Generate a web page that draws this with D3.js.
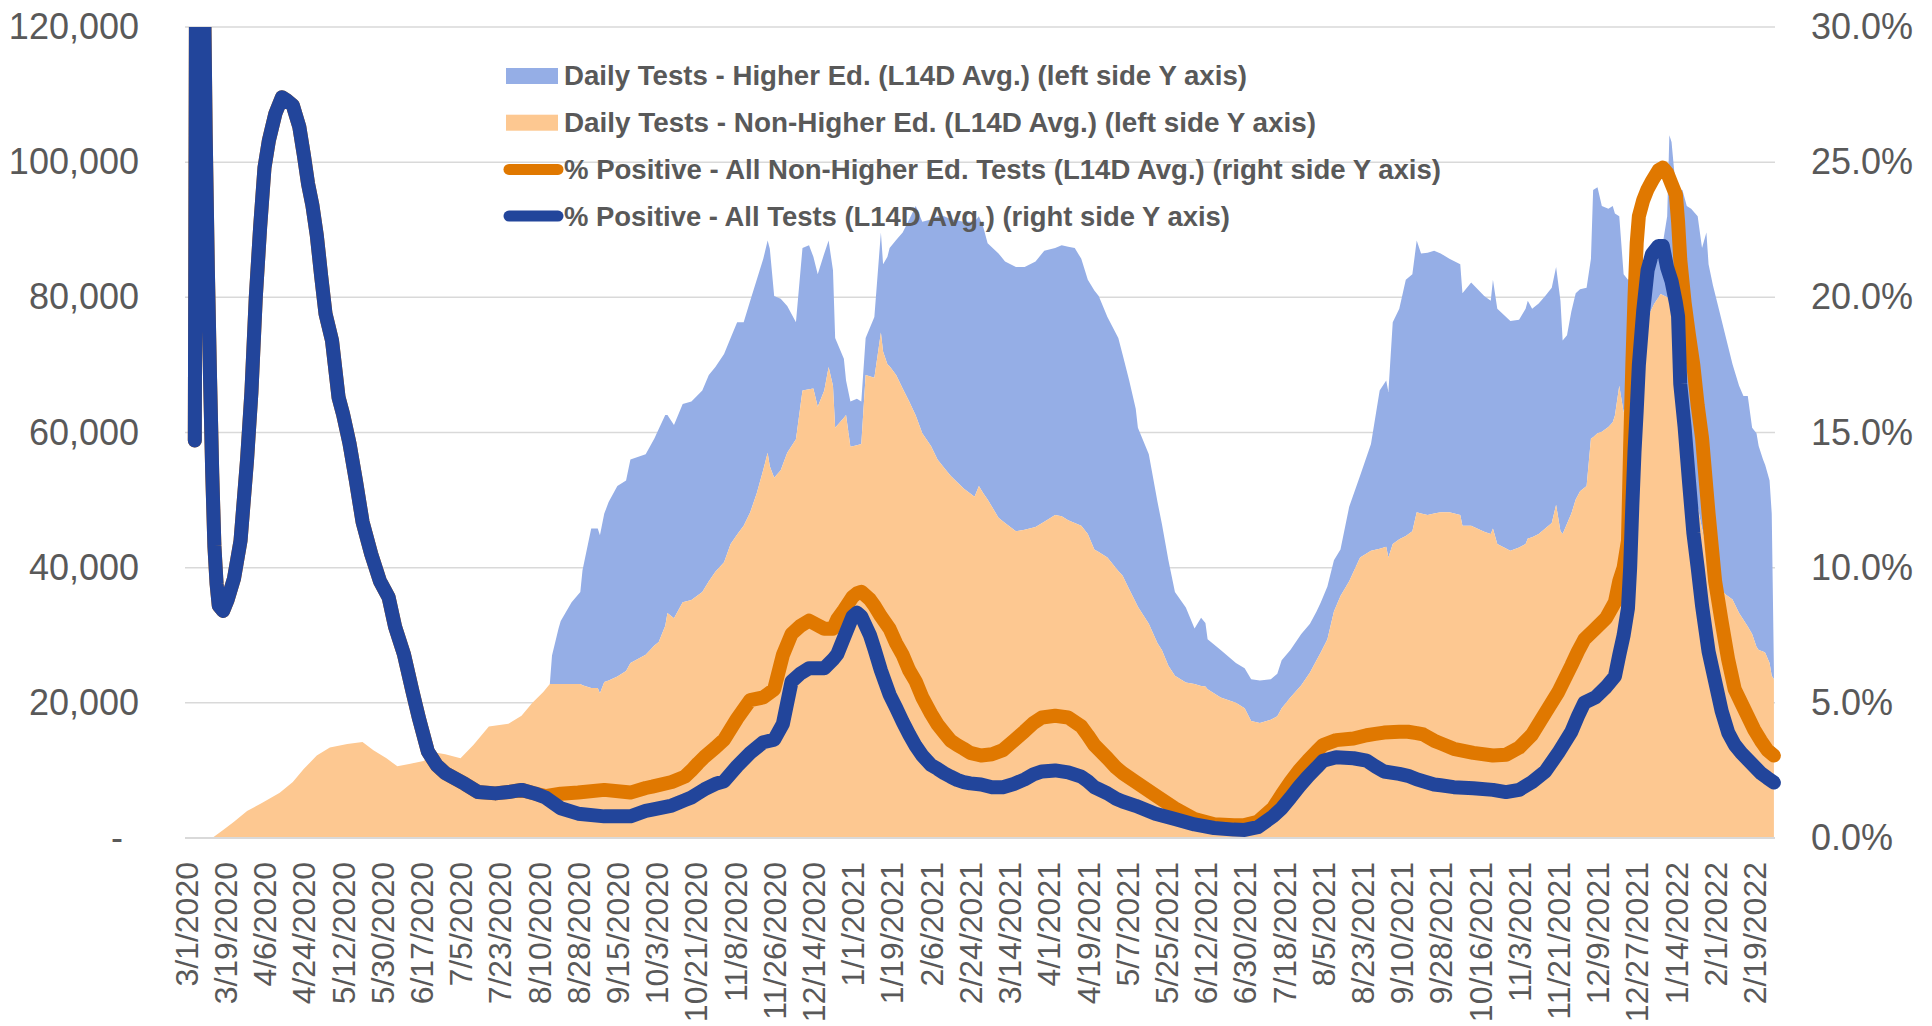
<!DOCTYPE html>
<html>
<head>
<meta charset="utf-8">
<script src="https://cdn.jsdelivr.net/npm/d3@7"></script>
<style>
  body { margin: 0; background: #fff; }
  svg { display: block; }
</style>
</head>
<body>
<div id="plot"></div>
<script>
// ---- data (day offsets counted from 3/1/2020) ----
const tickLabels = ["3/1/2020", "3/19/2020", "4/6/2020", "4/24/2020", "5/12/2020", "5/30/2020", "6/17/2020",
  "7/5/2020", "7/23/2020", "8/10/2020", "8/28/2020", "9/15/2020", "10/3/2020", "10/21/2020", "11/8/2020",
  "11/26/2020", "12/14/2020", "1/1/2021", "1/19/2021", "2/6/2021", "2/24/2021", "3/14/2021", "4/1/2021",
  "4/19/2021", "5/7/2021", "5/25/2021", "6/12/2021", "6/30/2021", "7/18/2021", "8/5/2021", "8/23/2021",
  "9/10/2021", "9/28/2021", "10/16/2021", "11/3/2021", "11/21/2021", "12/9/2021", "12/27/2021",
  "1/14/2022", "2/1/2022", "2/19/2022"];

const leftTicks = [0, 20000, 40000, 60000, 80000, 100000, 120000];
const rightTicks = [0, 5, 10, 15, 20, 25, 30];

const seriesNames = [
  "Daily Tests - Higher Ed. (L14D Avg.) (left side Y axis)",
  "Daily Tests - Non-Higher Ed. (L14D Avg.) (left side Y axis)",
  "% Positive - All Non-Higher Ed. Tests (L14D Avg.) (right side Y axis)",
  "% Positive - All Tests (L14D Avg.) (right side Y axis)"
];

const areaDays = [0, 12, 17, 22, 28, 35, 43, 49, 54, 60, 66, 74, 81, 86, 92, 97, 103, 109, 115, 119, 126, 132,
  139, 148, 154, 159, 164, 167, 168, 171, 172, 177, 181, 182, 186, 189, 190, 192, 194, 198, 202, 204, 211, 215,
  217, 220, 221, 224, 228, 232, 237, 240, 243, 247, 250, 253, 256, 259, 262, 265, 267, 268, 270, 273, 276, 280,
  283, 286, 288, 290, 293, 295, 297, 298, 302, 303, 305, 308, 310, 312, 316, 319, 320, 322, 323, 326, 329, 332,
  335, 338, 342, 345, 348, 351, 357, 362, 364, 366, 368, 373, 376, 381, 385, 390, 394, 399, 402, 405, 408, 411,
  414, 417, 419, 423, 428, 430, 433, 436, 437, 442, 446, 448, 451, 454, 459, 463, 466, 468, 469, 475, 482, 486,
  489, 493, 498, 501, 503, 507, 512, 516, 519, 521, 524, 527, 530, 534, 539, 544, 548, 551, 552, 554, 557, 560,
  563, 565, 567, 570, 573, 576, 580, 585, 586, 590, 596, 599, 600, 602, 608, 612, 615, 616, 618, 621, 624, 627,
  629, 631, 632, 634, 636, 638, 640, 643, 645, 646, 648, 650, 653, 655, 656, 658, 660, 662, 664, 666, 668, 671,
  674, 677, 680, 681, 682, 684, 687, 689, 691, 694, 696, 698, 699, 701, 704, 707, 710, 713, 715, 717, 719, 721,
  722, 724, 725, 727, 728, 729];

const nonHigherEdTests = [0, 0, 1200, 2400, 4000, 5200, 6700, 8300, 10200, 12200, 13400, 13900, 14200, 13000,
  11800, 10600, 11000, 11400, 12600, 12400, 11800, 13800, 16500, 16900, 18100, 20000, 21600, 22800, 22800, 22800,
  22800, 22800, 22800, 22600, 22200, 22200, 21400, 23100, 23300, 23900, 24700, 25900, 27100, 28500, 29000, 31400,
  33300, 32500, 34900, 35200, 36400, 38000, 39400, 40800, 43500, 44900, 46200, 48200, 51000, 54500, 57000, 55000,
  53300, 54400, 57000, 59000, 66200, 66400, 66500, 63800, 66200, 69700, 66900, 60700, 62200, 62600, 57900, 58100,
  58300, 68500, 68100, 74800, 72000, 70100, 69800, 68500, 66500, 64600, 62500, 59900, 58000, 56000, 54800, 53600,
  51700, 50500, 52100, 51000, 50100, 47400, 46600, 45400, 45600, 46000, 46800, 47800, 47600, 47000, 46600, 46200,
  45000, 42700, 42300, 41500, 39500, 38800, 36800, 34900, 34200, 31700, 28800, 27800, 25500, 24000, 23000, 22800,
  22500, 22400, 22000, 20800, 20000, 19200, 17300, 17000, 17500, 18000, 19200, 20800, 22600, 24500, 26300, 27500,
  29400, 33500, 35800, 38000, 41500, 42500, 42800, 43100, 41500, 43500, 44200, 44700, 45400, 48200, 48000, 47800,
  48000, 48200, 48200, 47800, 46200, 46200, 45300, 45000, 45800, 43500, 42500, 43000, 43500, 44300, 44500, 45000,
  45800, 46600, 49300, 45400, 45000, 46500, 48000, 50100, 51300, 52100, 59100, 59300, 59900, 60100, 60800, 61500,
  62500, 66900, 63000, 64500, 66200, 72000, 75000, 77000, 79000, 80500, 80000, 80000, 79500, 75000, 70000, 64600,
  55000, 49000, 45800, 43000, 41500, 38800, 37000, 36000, 35300, 33300, 32300, 31300, 30200, 28300, 27800, 27600,
  27400, 25900, 24000, 23500];

const higherEdTests = [0, 0, 0, 0, 0, 0, 0, 0, 0, 0, 0, 0, 0, 0, 0, 0, 0, 0, 0, 0, 0, 0, 0, 0, 0, 0, 0, 0, 4200,
  8200, 9300, 12100, 13600, 17000, 23600, 23600, 23400, 24900, 26400, 28200, 28200, 30100, 29700, 30600, 31500,
  31200, 29300, 28600, 29300, 29400, 29800, 30500, 30300, 30800, 30500, 31400, 30100, 31300, 31600, 31200, 31400,
  32200, 26900, 25400, 21700, 17300, 21100, 21300, 19500, 19600, 20300, 18700, 17100, 13300, 8700, 5100, 6700,
  6900, 6300, 5500, 9000, 14800, 12900, 15900, 17500, 20000, 23100, 26900, 31000, 31300, 33500, 36000, 37200,
  38000, 39500, 40700, 39900, 39400, 37900, 39100, 38700, 39100, 38900, 39300, 40100, 39500, 40100, 40500, 40700,
  39500, 37600, 38300, 37900, 35600, 34500, 32700, 30900, 28600, 26500, 25100, 20900, 18700, 15600, 12400, 11100,
  8200, 10100, 9400, 7400, 7000, 5900, 5900, 6200, 6300, 6000, 6300, 7100, 7000, 7600, 7200, 7200, 7400, 7800,
  7600, 6900, 11000, 12100, 15800, 23400, 24600, 24500, 32800, 34100, 37900, 38000, 40200, 38500, 38800, 38900,
  38300, 37500, 37100, 34400, 36000, 34900, 34500, 36800, 34800, 34000, 33700, 34800, 35200, 33800, 34100, 34400,
  34800, 35200, 34100, 28600, 27900, 29900, 30500, 29900, 29300, 26600, 36600, 36400, 33400, 32300, 32000, 29900,
  25100, 20400, 18100, 16800, 9400, 3500, 3000, 6000, 5500, 12000, 24000, 23500, 21000, 25900, 28900, 38100,
  43000, 41500, 46600, 43400, 43000, 40900, 38000, 34800, 33600, 33100, 34100, 30500, 31600, 30200, 28400, 27800,
  27000, 24000, 1500];

const lineDays = [4, 5, 7, 8, 9, 10, 11, 12, 13, 14, 15, 17, 19, 22, 25, 28, 30, 32, 34, 36, 38, 41, 44, 46, 49,
  52, 54, 56, 58, 60, 62, 64, 67, 70, 72, 75, 78, 81, 85, 89, 93, 96, 100, 104, 107, 111, 115, 119, 128, 134,
  142, 148, 154, 160, 165, 172, 180, 192, 204, 211, 214, 223, 229, 232, 235, 238, 243, 247, 253, 259, 265, 270,
  274, 278, 282, 286, 293, 297, 299, 302, 306, 308, 310, 314, 316, 319, 323, 326, 329, 332, 335, 338, 342, 345,
  348, 351, 354, 357, 360, 365, 370, 375, 380, 385, 389, 393, 399, 405, 411, 414, 417, 423, 427, 430, 436, 445,
  454, 463, 472, 481, 486, 492, 499, 503, 507, 511, 515, 519, 522, 528, 536, 542, 546, 550, 557, 561, 565, 568,
  573, 576, 582, 591, 600, 606, 612, 618, 624, 630, 636, 639, 642, 647, 652, 656, 658, 660, 662, 663, 664, 665,
  666, 667, 669, 671, 673, 676, 678, 680, 682, 684, 685, 686, 688, 690, 692, 694, 696, 699, 702, 705, 708, 711,
  714, 717, 720, 723, 726, 729];

const pctAllTests = [14.7, 45, 42, 33, 26, 21, 17, 13.5, 10.8, 9.4, 8.6, 8.4, 8.8, 9.6, 11.0, 14.0, 16.5, 20.0,
  22.6, 24.8, 25.8, 26.8, 27.4, 27.3, 27.1, 26.3, 25.3, 24.2, 23.4, 22.3, 20.8, 19.4, 18.4, 16.3, 15.7, 14.6,
  13.2, 11.7, 10.5, 9.5, 8.9, 7.8, 6.8, 5.4, 4.4, 3.2, 2.7, 2.4, 2.0, 1.7, 1.65, 1.7, 1.78, 1.65, 1.5, 1.1, 0.9,
  0.8, 0.8, 1.0, 1.05, 1.2, 1.4, 1.5, 1.65, 1.8, 2.0, 2.1, 2.66, 3.15, 3.54, 3.64, 4.22, 5.79, 6.08, 6.28, 6.28,
  6.6, 6.8, 7.4, 8.2, 8.33, 8.2, 7.5, 7.0, 6.2, 5.3, 4.81, 4.3, 3.83, 3.4, 3.05, 2.7, 2.56, 2.4, 2.27, 2.15,
  2.07, 2.02, 1.98, 1.88, 1.88, 2.0, 2.17, 2.35, 2.46, 2.5, 2.43, 2.27, 2.1, 1.88, 1.65, 1.45, 1.35, 1.19, 0.9,
  0.7, 0.5, 0.37, 0.31, 0.3, 0.4, 0.8, 1.1, 1.49, 1.9, 2.27, 2.6, 2.86, 2.99, 2.95, 2.86, 2.65, 2.46, 2.37, 2.3,
  2.17, 2.1, 1.98, 1.95, 1.88, 1.84, 1.78, 1.7, 1.78, 2.07, 2.46, 3.15, 3.93, 4.5, 5.01, 5.2, 5.59, 5.98, 6.77,
  7.5, 8.5, 10.0, 12.3, 14.3, 15.8, 17.5, 19.5, 21.0, 21.6, 21.9, 21.9, 21.1, 20.6, 19.8, 19.3, 16.8, 15.2, 13.2,
  11.3, 10.0, 8.6, 6.9, 5.8, 4.7, 3.9, 3.45, 3.15, 2.9, 2.65, 2.4, 2.22, 2.05];

const pctNonHigherEd = [14.7, 45, 42, 33, 26, 21, 17, 13.5, 10.8, 9.4, 8.6, 8.4, 8.8, 9.6, 11.0, 14.0, 16.5,
  20.0, 22.6, 24.8, 25.8, 26.8, 27.4, 27.3, 27.1, 26.3, 25.3, 24.2, 23.4, 22.3, 20.8, 19.4, 18.4, 16.3, 15.7,
  14.6, 13.2, 11.7, 10.5, 9.5, 8.9, 7.8, 6.8, 5.4, 4.4, 3.2, 2.7, 2.4, 2.0, 1.7, 1.65, 1.7, 1.78, 1.65, 1.55,
  1.64, 1.68, 1.78, 1.68, 1.85, 1.9, 2.07, 2.27, 2.5, 2.76, 3.0, 3.34, 3.64, 4.42, 5.1, 5.2, 5.5, 6.77, 7.55,
  7.84, 8.04, 7.74, 7.74, 8.1, 8.43, 8.92, 9.05, 9.11, 8.82, 8.6, 8.2, 7.74, 7.2, 6.77, 6.2, 5.79, 5.2, 4.6, 4.2,
  3.9, 3.6, 3.44, 3.3, 3.15, 3.05, 3.1, 3.25, 3.6, 3.95, 4.25, 4.46, 4.52, 4.46, 4.13, 3.8, 3.44, 2.95, 2.6, 2.4,
  2.07, 1.58, 1.10, 0.70, 0.51, 0.47, 0.48, 0.6, 1.1, 1.6, 2.07, 2.5, 2.86, 3.2, 3.44, 3.62, 3.68, 3.8, 3.85,
  3.9, 3.93, 3.93, 3.88, 3.83, 3.6, 3.5, 3.3, 3.15, 3.05, 3.08, 3.34, 3.83, 4.62, 5.4, 6.38, 6.9, 7.35, 7.74,
  8.14, 8.72, 9.5, 10.0, 11.0, 14.5, 17.5, 20.0, 22.0, 23.0, 23.6, 24.0, 24.3, 24.7, 24.8, 24.6, 24.2, 23.8,
  22.8, 21.4, 19.8, 18.6, 17.5, 16.0, 14.8, 12.0, 9.5, 8.0, 6.6, 5.5, 5.0, 4.5, 4.0, 3.6, 3.25, 3.05];

// ---- layout ----
const width = 1932, height = 1026;
const plotLeft = 185, plotRight = 1775, plotTop = 27, plotBottom = 838;
const textColor = "#595959";
const font = "'Liberation Sans', Arial, sans-serif";

const svg = d3.select("#plot").append("svg")
  .attr("width", width)
  .attr("height", height)
  .style("font-family", font);

const day0 = new Date(Date.UTC(2020, 2, 1));
const toDate = d => d3.utcDay.offset(day0, d);
const parseLabel = d3.utcParse("%m/%d/%Y");

const x = d3.scaleUtc()
  .domain([d3.utcHour.offset(day0, -12), d3.utcHour.offset(toDate(729), 12)])
  .range([plotLeft, plotRight]);

const yLeft = d3.scaleLinear().domain([0, 120000]).range([plotBottom, plotTop]);
const yRight = d3.scaleLinear().domain([0, 30]).range([plotBottom, plotTop]);

// gridlines
svg.append("g")
  .selectAll("line")
  .data(leftTicks.slice(1))
  .enter()
  .append("line")
    .attr("x1", plotLeft)
    .attr("x2", plotRight)
    .attr("y1", d => yLeft(d))
    .attr("y2", d => yLeft(d))
    .style("stroke", "#d9d9d9")
    .style("stroke-width", 1.5);

// areas: non higher ed at the bottom, higher ed stacked on top
const areaData = areaDays.map((d, i) => ({
  date: toDate(d),
  nonHE: nonHigherEdTests[i],
  total: nonHigherEdTests[i] + higherEdTests[i]
}));

svg.append("path")
  .datum(areaData)
  .attr("d", d3.area()
    .x(d => x(d.date))
    .y0(d => yLeft(d.nonHE))
    .y1(d => yLeft(d.total)))
  .style("fill", "#95aee6");

svg.append("path")
  .datum(areaData)
  .attr("d", d3.area()
    .x(d => x(d.date))
    .y0(yLeft(0))
    .y1(d => yLeft(d.nonHE)))
  .style("fill", "#fdc891");

// bottom axis
const xAxis = svg.append("g")
  .attr("transform", "translate(0," + plotBottom + ")")
  .call(d3.axisBottom(x)
    .tickValues(tickLabels.map(parseLabel))
    .tickFormat(d3.utcFormat("%-m/%-d/%Y"))
    .tickSize(0));
xAxis.select(".domain")
  .attr("d", "M" + plotLeft + ",0H" + plotRight)
  .style("stroke", "#d9d9d9")
  .style("stroke-width", 2);
xAxis.selectAll("text")
  .attr("transform", "rotate(-90)")
  .attr("text-anchor", "end")
  .attr("x", -24)
  .attr("y", 0)
  .attr("dy", "0.35em")
  .style("font-size", "32px")
  .style("font-family", font)
  .style("fill", textColor);

// left axis
const leftAxis = svg.append("g")
  .attr("transform", "translate(" + plotLeft + ",0)")
  .call(d3.axisLeft(yLeft)
    .tickValues(leftTicks)
    .tickFormat(v => v === 0 ? "-" : d3.format(",")(v))
    .tickSize(0)
    .tickPadding(46));
leftAxis.select(".domain").remove();
leftAxis.selectAll("text")
  .style("font-size", "36px")
  .style("font-family", font)
  .style("fill", textColor)
  .filter(d => d === 0)
    .attr("dx", -16);

// right axis
const rightAxis = svg.append("g")
  .attr("transform", "translate(" + plotRight + ",0)")
  .call(d3.axisRight(yRight)
    .tickValues(rightTicks)
    .tickFormat(v => v.toFixed(1) + "%")
    .tickSize(0)
    .tickPadding(36));
rightAxis.select(".domain").remove();
rightAxis.selectAll("text")
  .style("font-size", "36px")
  .style("font-family", font)
  .style("fill", textColor);

// lines, clipped at the top of the plot area like the original
svg.append("clipPath")
  .attr("id", "clip")
  .append("rect")
    .attr("x", 0)
    .attr("y", plotTop)
    .attr("width", width)
    .attr("height", height - plotTop);

const lineData = lineDays.map((d, i) => ({
  date: toDate(d),
  all: pctAllTests[i],
  nonHE: pctNonHigherEd[i]
}));

const lines = svg.append("g").attr("clip-path", "url(#clip)");

lines.append("path")
  .datum(lineData)
  .attr("d", d3.line().x(d => x(d.date)).y(d => yRight(d.nonHE)))
  .style("fill", "none")
  .style("stroke", "#e07800")
  .style("stroke-width", 14)
  .style("stroke-linejoin", "round")
  .style("stroke-linecap", "round");

lines.append("path")
  .datum(lineData)
  .attr("d", d3.line().x(d => x(d.date)).y(d => yRight(d.all)))
  .style("fill", "none")
  .style("stroke", "#22459b")
  .style("stroke-width", 14)
  .style("stroke-linejoin", "round")
  .style("stroke-linecap", "round");

// legend
const legendColors = ["#95aee6", "#fdc891", "#e07800", "#22459b"];
const legendWidths = [683, 752, 877, 666];
const legend = svg.append("g");

legend.selectAll("g")
  .data(seriesNames)
  .enter()
  .append("g")
    .attr("transform", (d, i) => "translate(0," + (76 + i * 46.7) + ")")
    .each(function(d, i) {
      const g = d3.select(this);
      if (i < 2) {
        g.append("rect")
          .attr("x", 506)
          .attr("y", -8)
          .attr("width", 52)
          .attr("height", 16)
          .style("fill", legendColors[i]);
      } else {
        g.append("line")
          .attr("x1", 509)
          .attr("x2", 558)
          .style("stroke", legendColors[i])
          .style("stroke-width", 11)
          .style("stroke-linecap", "round");
      }
      g.append("text")
        .attr("x", 564)
        .attr("dy", "0.35em")
        .attr("textLength", legendWidths[i])
        .attr("lengthAdjust", "spacingAndGlyphs")
        .style("font-size", "27px")
        .style("font-weight", "bold")
        .style("fill", textColor)
        .text(d);
    });
</script>
</body>
</html>
